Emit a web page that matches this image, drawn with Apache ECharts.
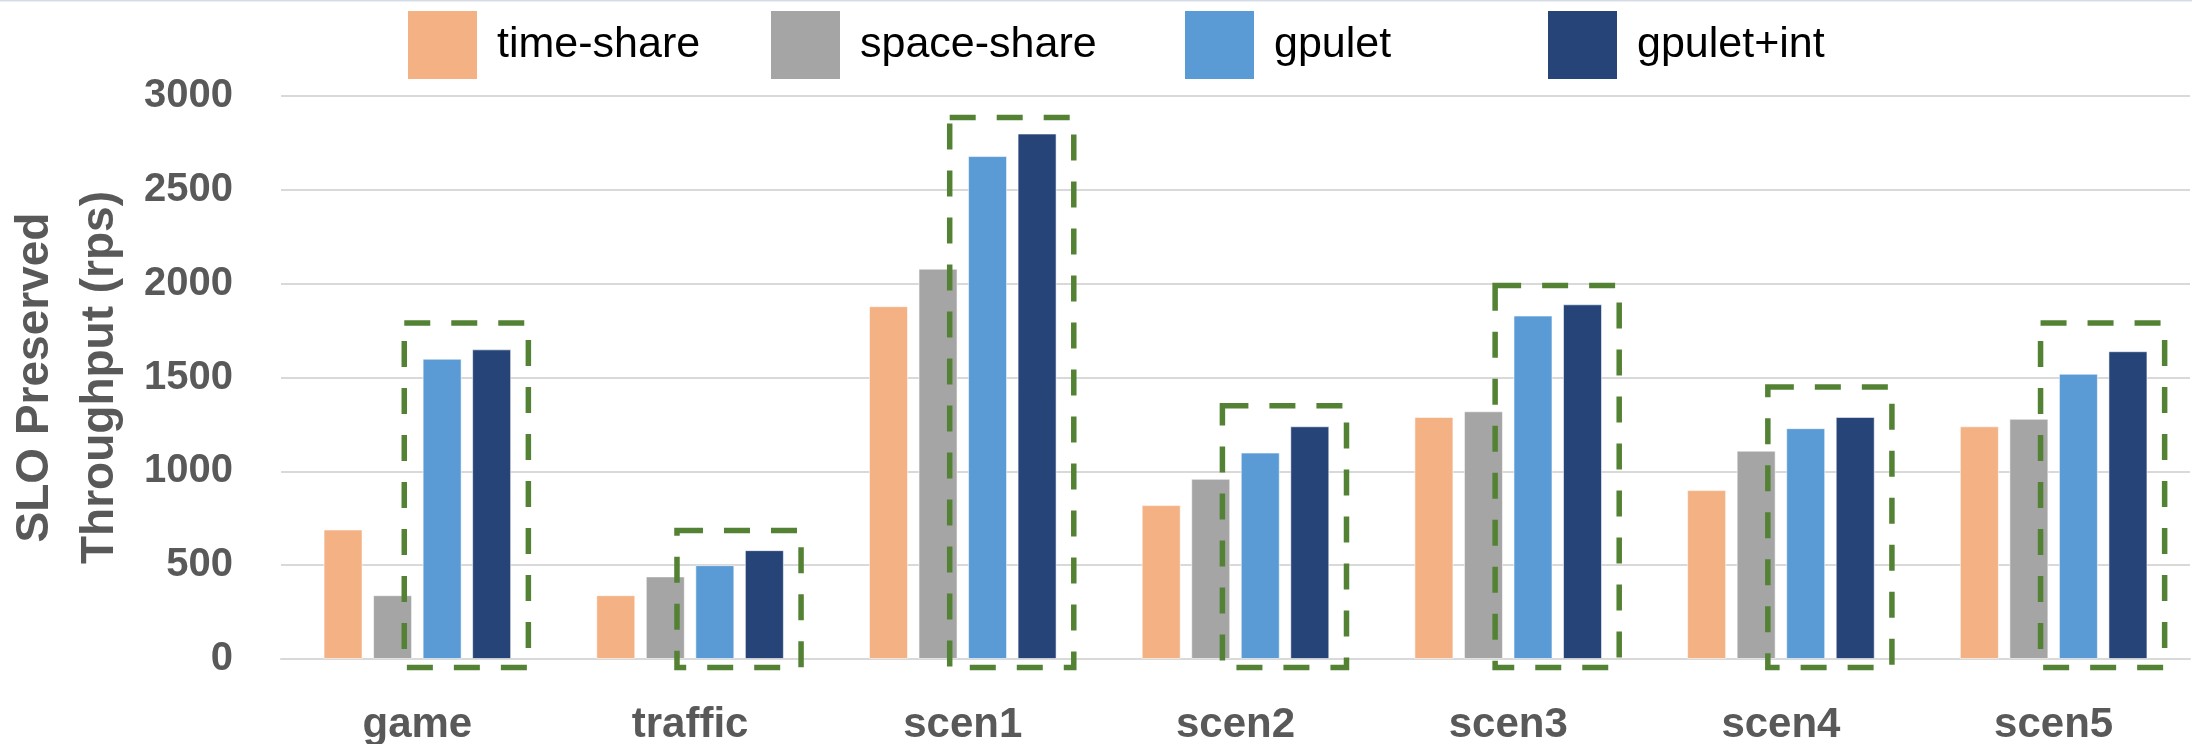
<!DOCTYPE html>
<html>
<head>
<meta charset="utf-8">
<title>SLO Preserved Throughput</title>
<script src="https://cdn.jsdelivr.net/npm/echarts@6/dist/echarts.min.js"></script>
<style>
  html, body { margin: 0; padding: 0; background: #ffffff; }
  #chart { width: 2192px; height: 744px; }
</style>
</head>
<body>
<div id="chart"></div>
<script>
// Workloads on the x axis
const categories = ['game', 'traffic', 'scen1', 'scen2', 'scen3', 'scen4', 'scen5'];

// SLO-preserved throughput (requests per second) per scheduler
const timeShare  = [690, 340, 1880, 820, 1290, 900, 1240];
const spaceShare = [340, 440, 2080, 960, 1320, 1110, 1280];
const gpulet     = [1600, 500, 2680, 1100, 1830, 1230, 1520];
const gpuletInt  = [1650, 580, 2800, 1240, 1890, 1290, 1640];

// Upper edge (in rps) of the dashed highlight box around the gpulet pair
const highlightTop = [1790, 685, 2885, 1350, 1990, 1450, 1790];

// Y axis ticks
const yTicks = [0, 500, 1000, 1500, 2000, 2500, 3000];

const seriesNames = ['time-share', 'space-share', 'gpulet', 'gpulet+int'];
const seriesColors = ['#F4B183', '#A5A5A5', '#5B9BD5', '#264478'];
const seriesValues = [timeShare, spaceShare, gpulet, gpuletInt];

const textGrey = '#595959';
const fontFamily = '"Liberation Sans", Arial, sans-serif';

const chart = echarts.init(document.getElementById('chart'), null, { renderer: 'canvas' });

// One legend block per series so every swatch sits at its own spot
const legendLeft = [408, 771, 1185, 1548];
const legends = seriesNames.map((name, i) => ({
  data: [name],
  left: legendLeft[i],
  top: 11,
  padding: 0,
  itemWidth: 69,
  itemHeight: 68,
  icon: 'rect',
  selectedMode: false,
  itemStyle: { borderWidth: 0 },
  formatter: '{t|{name}}',
  textStyle: {
    rich: {
      t: {
        fontFamily: fontFamily,
        fontSize: 43,
        color: '#000000',
        padding: [0, 0, 0, 15]
      }
    }
  }
}));

const barSeries = seriesNames.map((name, i) => ({
  name: name,
  type: 'bar',
  data: seriesValues[i],
  barWidth: 39,
  barGap: '27%',
  itemStyle: {
    color: seriesColors[i],
    borderColor: 'rgba(255,255,255,0.55)',
    borderWidth: 1
  },
  emphasis: { disabled: true },
  z: 2
}));

// Dashed rectangle drawn around the gpulet / gpulet+int bars of each group
const highlightSeries = {
  type: 'custom',
  name: 'highlight',
  data: highlightTop.map((v, i) => [i, v]),
  clip: false,
  z: 5,
  silent: true,
  renderItem: function (params, api) {
    const topPt = api.coord([api.value(0), api.value(1)]);
    const basePt = api.coord([api.value(0), 0]);
    const band = api.size([1, 0])[0];
    const x0 = topPt[0] - band * 0.048;
    const x1 = topPt[0] + band * 0.407;
    const y0 = topPt[1];
    const y1 = basePt[1] + 8.5;
    return {
      type: 'rect',
      shape: { x: x0, y: y0, width: x1 - x0, height: y1 - y0 },
      style: {
        fill: 'none',
        stroke: '#548235',
        lineWidth: 5.5,
        lineDash: [26, 21]
      }
    };
  }
};

const option = {
  backgroundColor: '#ffffff',
  animation: false,
  legend: legends,
  grid: {
    left: 281, right: 2, top: 96, bottom: 85,
    containLabel: false,
    outerBoundsMode: 'none'
  },
  graphic: [{
    type: 'line',
    shape: { x1: 0, y1: 0.75, x2: 2192, y2: 0.75 },
    style: { stroke: '#D6DCE5', lineWidth: 1.5 },
    silent: true
  }],
  xAxis: {
    type: 'category',
    data: categories,
    boundaryGap: true,
    axisLine: { show: true, lineStyle: { color: '#D9D9D9', width: 2 } },
    axisTick: { show: false },
    axisLabel: {
      margin: 45,
      color: textGrey,
      fontFamily: fontFamily,
      fontWeight: 'bold',
      fontSize: 42
    }
  },
  yAxis: {
    type: 'value',
    min: yTicks[0],
    max: yTicks[yTicks.length - 1],
    interval: yTicks[1] - yTicks[0],
    name: 'SLO Preserved\nThroughput (rps)',
    nameLocation: 'middle',
    nameRotate: 90,
    nameGap: 146,
    nameTextStyle: {
      color: textGrey,
      fontFamily: fontFamily,
      fontWeight: 'bold',
      fontSize: 46,
      lineHeight: 65
    },
    axisLine: { show: false },
    axisTick: { show: false },
    splitLine: { lineStyle: { color: '#D9D9D9', width: 2 } },
    axisLabel: {
      margin: 48,
      color: textGrey,
      fontFamily: fontFamily,
      fontWeight: 'bold',
      fontSize: 40,
      formatter: function (v) { return String(v); }
    }
  },
  series: barSeries.concat([highlightSeries])
};

chart.setOption(option);
</script>
</body>
</html>
